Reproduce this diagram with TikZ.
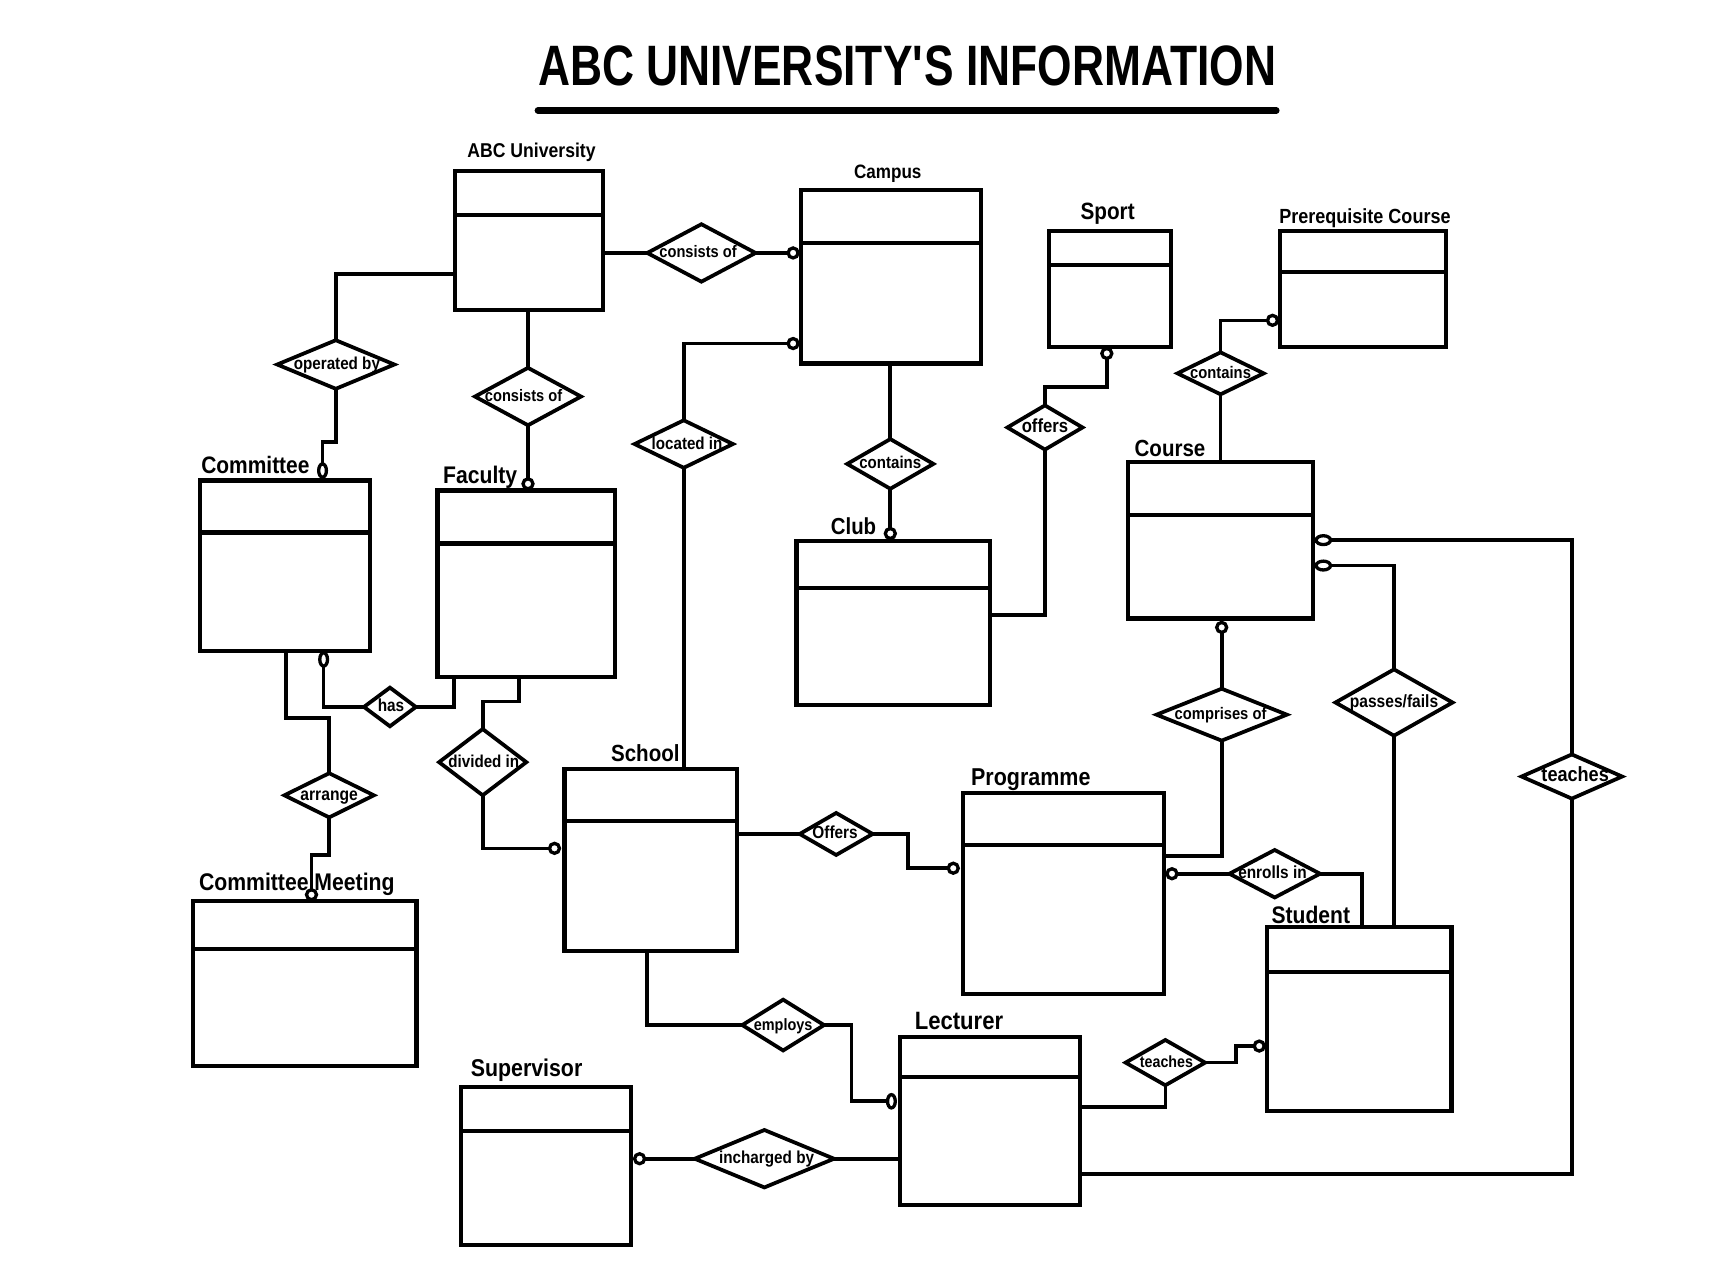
\documentclass[tikz,border=0pt]{standalone}
\usepackage{fontspec}
\setmainfont{Liberation Sans}[FakeStretch=0.88]
\usetikzlibrary{shapes.geometric}

% entity box with a header divider: name, cx, cy, width, height, divider offset
\newcommand\entbox[6]{%
  \node[entity, minimum width=#4pt, minimum height=#5pt] (#1) at (#2,#3) {};
  \draw[divline] ([yshift=-#6pt]#1.north west) -- ([yshift=-#6pt]#1.north east);
}
% entity caption: node name, left x, baseline y, width, text
\newcommand\entname[5]{%
  \node[ename] (#1) at (#2,#3) {\resizebox{#4pt}{!}{#5}};
}
% relationship diamond: name, cx, cy, width, height, text width, text, text x shift
\newcommand\relbox[8]{%
  \node[rel, minimum width=#4pt, minimum height=#5pt] (#1) at (#2,#3) {};
  \node[rname] (#1-t) at ([xshift=#8pt, yshift=-4.5pt]#1.center) {\resizebox{#6pt}{!}{#7}};
}

\begin{document}
\begin{tikzpicture}[x=1pt, y=-1pt,
  entity/.style={draw=black, line width=3.8pt, rectangle, inner sep=0pt, outer sep=0pt},
  divline/.style={line width=3.8pt},
  rel/.style={draw=black, line width=3.4pt, diamond, inner sep=0pt, outer sep=0pt},
  cn/.style={line width=3.3pt, line join=miter},
  zc/.style={draw=black, line width=3pt, fill=white, circle, inner sep=0pt, outer sep=0pt, minimum size=9pt},
  zv/.style={draw=black, line width=3pt, fill=white, ellipse, inner sep=0pt, outer sep=0pt, minimum width=7pt, minimum height=12pt},
  zh/.style={draw=black, line width=3pt, fill=white, ellipse, inner sep=0pt, outer sep=0pt, minimum width=13pt, minimum height=8pt},
  ename/.style={anchor=base west, inner sep=0pt, font=\bfseries},
  rname/.style={anchor=base, inner sep=0pt, font=\bfseries},
]
\path[use as bounding box, fill=white] (0,0) rectangle (1568,1150);

% heading
\node[anchor=south west, inner sep=0pt, font=\bfseries] (title) at (487,78)
  {\resizebox{668pt}{36pt}{ABC UNIVERSITY\textquotesingle S INFORMATION}};
\draw[line width=6pt, line cap=round]
  ([yshift=-22pt]title.south west) -- ([yshift=-22pt]title.south east);

% entities
\entbox{abc}{479}{218}{134}{126}{40}
\entbox{campus}{806.5}{250.5}{163}{157}{48}
\entbox{sport}{1005}{261.5}{110}{105}{31}
\entbox{prereq}{1234}{261.5}{150}{105}{37}
\entbox{committee}{258}{512}{154}{154}{47}
\entbox{faculty}{476.5}{528.5}{161}{169}{48}
\entbox{club}{808.5}{564}{175}{148}{42}
\entbox{course}{1105}{489}{168}{142}{48}
\entbox{school}{589}{778.5}{156}{165}{47}
\entbox{programme}{963}{809}{182}{182}{47}
\entbox{meeting}{276}{890.5}{202}{149}{43}
\entbox{student}{1230.5}{922.5}{167}{167}{41}
\entbox{lecturer}{896.5}{1015}{163}{152}{36}
\entbox{supervisor}{494}{1055.5}{154}{143}{40}

% entity captions
\entname{abc-l}{423}{143}{116}{ABC University}
\entname{campus-l}{773}{162}{61}{Campus}
\entname{sport-l}{978}{199}{49}{Sport}
\entname{prereq-l}{1158}{202}{155}{Prerequisite Course}
\entname{committee-l}{182}{429}{98}{Committee}
\entname{faculty-l}{401}{438}{67}{Faculty}
\entname{club-l}{752}{484}{41}{Club}
\entname{course-l}{1027}{413}{64}{Course}
\entname{school-l}{553}{689}{62}{School}
\entname{programme-l}{879}{711}{108}{Programme}
\entname{meeting-l}{180}{806}{177}{Committee Meeting}
\entname{student-l}{1151}{836}{71}{Student}
\entname{lecturer-l}{828}{932}{80}{Lecturer}
\entname{supervisor-l}{426}{975}{101}{Supervisor}

% relationships
\relbox{co1}{635}{229}{98}{52}{70}{consists of}{-3}
\relbox{op}{304}{330}{106}{44}{78}{operated by}{1}
\relbox{co2}{478}{359}{96}{52}{70}{consists of}{-4}
\relbox{loc}{619}{402}{89}{43}{64}{located in}{3}
\relbox{ctn}{806}{420}{78}{45}{56}{contains}{0}
\relbox{off}{946}{387}{68}{40}{42}{offers}{0}
\relbox{ct2}{1105}{338}{78}{38}{55}{contains}{0}
\relbox{hasr}{353}{640}{47}{35}{24}{has}{1}
\relbox{arr}{298}{720}{81}{40}{52}{arrange}{0}
\relbox{div}{437}{690}{79}{60}{64}{divided in}{1}
\relbox{cmp}{1106}{647}{118}{47}{83}{comprises of}{-1}
\relbox{pf}{1262}{636}{106}{60}{80}{passes/fails}{0}
\relbox{tch}{1423}{703}{91}{40}{61}{teaches}{3}
\relbox{of2}{757}{755}{66}{38}{41}{Offers}{-1}
\relbox{enr}{1154}{791}{82}{43}{62}{enrolls in}{-2}
\relbox{emp}{709}{928}{74}{46}{53}{employs}{0}
\relbox{tc2}{1055}{962}{72}{41}{48}{teaches}{1}
\relbox{inc}{692}{1049}{126}{52}{86}{incharged by}{2}

% optional-participation markers
\node[zc] (zcp1) at (718,229) {};
\node[zc] (zcp2) at (718,311) {};
\node[zv] (zct) at (292,426) {};
\node[zc] (zft) at (478,438) {};
\node[zc] (zcl) at (806,483) {};
\node[zc] (zsp) at (1002,320) {};
\node[zc] (zpr) at (1152,290) {};
\node[zh] (zcr1) at (1198,489) {};
\node[zh] (zcr2) at (1198,512) {};
\node[zc] (zcb2) at (1106,568) {};
\node[zv] (zcb) at (293,597) {};
\node[zc] (zcm) at (282,810) {};
\node[zc] (zsl) at (502,768) {};
\node[zc] (zpl) at (863,786) {};
\node[zc] (zpr2) at (1061,791) {};
\node[zv] (zll) at (807,997) {};
\node[zc] (zsr) at (579,1049) {};
\node[zc] (zst) at (1140,947) {};

% connectors
\draw[cn] (abc.east |- co1.west) -- (co1.west);
\draw[cn] (co1.east) -- (zcp1.west);

\draw[cn] (abc.west |- 0,248) -| (op.north);
\draw[cn] (op.south) -- ++(0,48) -| (zct.north);

\draw[cn] (abc.south -| co2.north) -- (co2.north);
\draw[cn] (co2.south) -- (zft.north);

\draw[cn] (zcp2.west) -| (loc.north);
\draw[cn] (loc.south) -- (loc.south |- school.north);

\draw[cn] (campus.south -| ctn.north) -- (ctn.north);
\draw[cn] (ctn.south) -- (zcl.north);

\draw[cn] (zsp.south) -- ++(0,26) -| (off.north);
\draw[cn] (off.south) |- (club.east |- 0,557);

\draw[cn] (zpr.west) -| (ct2.north);
\draw[cn] (ct2.south) -- (ct2.south |- course.north);

\draw[cn] (zcb.south) |- (hasr.west);
\draw[cn] (hasr.east) -| (faculty.south -| 411,0);

\draw[cn] (committee.south -| 259,0) -- ++(0,61) -| (arr.north);
\draw[cn] (arr.south) -- ++(0,34) -| (zcm.north);

\draw[cn] (faculty.south -| 470,0) -- ++(0,22) -| (div.north);
\draw[cn] (div.south) |- (zsl.west);

\draw[cn] (school.east |- of2.west) -- (of2.west);
\draw[cn] (of2.east) -- ++(32,0) |- (zpl.west);

\draw[cn] (school.south -| 586,0) |- (emp.west);
\draw[cn] (emp.east) -- ++(25,0) |- (zll.west);

\draw[cn] (zsr.east) -- (inc.west);
\draw[cn] (inc.east) -- (lecturer.west |- inc.east);

\draw[cn] (zcb2.south) -- (cmp.north);
\draw[cn] (cmp.south) |- (programme.east |- 0,775);

\draw[cn] (zpr2.east) -- (enr.west);
\draw[cn] (enr.east) -| (student.north -| 1233,0);

\draw[cn] (zcr2.east) -| (pf.north);
\draw[cn] (pf.south) -- (pf.south |- student.north);

\draw[cn] (zcr1.east) -| (tch.north);
\draw[cn] (tch.south) |- (lecturer.east |- 0,1063);

\draw[cn] (lecturer.east |- 0,1002) -| (tc2.south);
\draw[cn] (tc2.east) -- ++(28,0) |- (zst.west);
\end{tikzpicture}
\end{document}
